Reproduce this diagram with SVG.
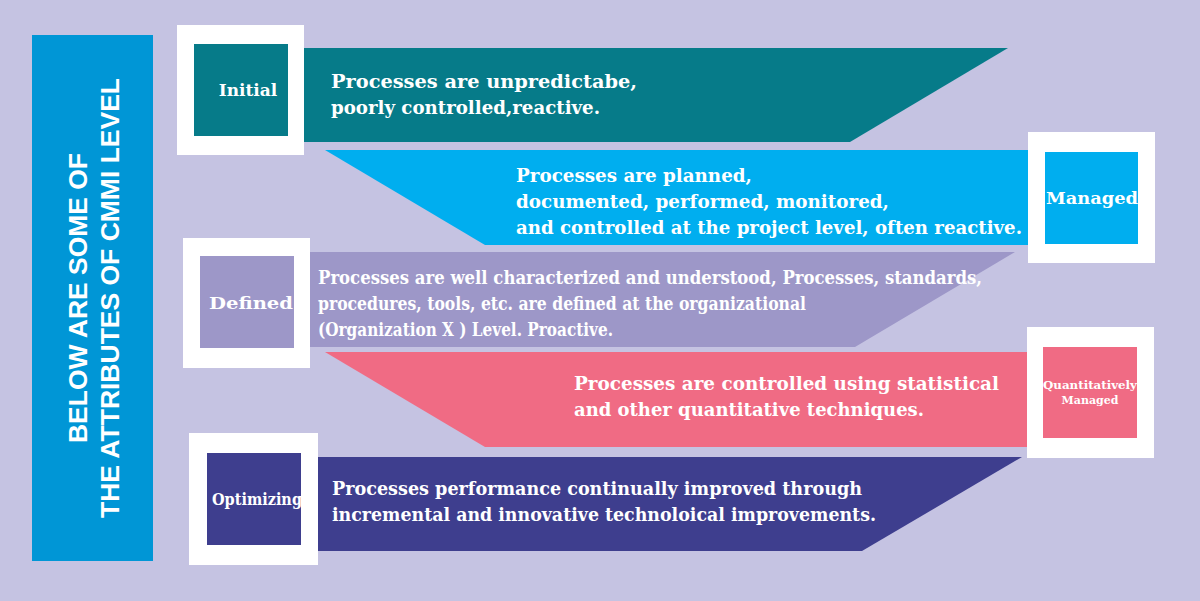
<svg xmlns="http://www.w3.org/2000/svg" width="1200" height="601" viewBox="0 0 1200 601">
<style>
.t{font-family:"DejaVu Serif","Liberation Serif",serif;font-weight:bold;fill:#fff;font-size:19px}
.l{font-family:"DejaVu Serif","Liberation Serif",serif;font-weight:bold;fill:#fff;font-size:17px}
.w{fill:#fff}
</style>
<rect width="1200" height="601" fill="#c5c3e2"/>
<g id="banner">
<rect x="32" y="35" width="121" height="526" fill="#0096d6"/>
<g transform="translate(92,298) rotate(-90)" font-family="Liberation Sans,Arial,sans-serif" font-weight="bold" font-size="25" fill="#fff" text-anchor="middle">
<text x="0" y="-5" textLength="290" lengthAdjust="spacingAndGlyphs">BELOW ARE SOME OF</text>
<text x="0" y="27" textLength="440" lengthAdjust="spacingAndGlyphs">THE ATTRIBUTES OF CMMI LEVEL</text>
</g>
</g>
<g id="initial">
<polygon points="304,48 1008,48 850,142 304,142" fill="#067b89"/>
<rect class="w" x="177" y="25" width="127" height="130"/>
<rect x="194" y="44" width="94" height="92" fill="#067b89"/>
<text class="l" x="248" y="96" text-anchor="middle">Initial</text>
<text class="t" x="331" y="88" textLength="306" lengthAdjust="spacingAndGlyphs">Processes are unpredictabe,</text>
<text class="t" x="331" y="114" textLength="269" lengthAdjust="spacingAndGlyphs">poorly controlled,reactive.</text>
</g>
<g id="managed">
<polygon points="325,150 1030,150 1030,245 485,245" fill="#00aeef"/>
<rect class="w" x="1028" y="132" width="127" height="131"/>
<rect x="1045" y="152" width="93" height="92" fill="#00aeef"/>
<text class="l" x="1092" y="204" text-anchor="middle" textLength="92" lengthAdjust="spacingAndGlyphs">Managed</text>
<text class="t" x="516" y="182" textLength="236" lengthAdjust="spacingAndGlyphs">Processes are planned,</text>
<text class="t" x="516" y="208" textLength="373" lengthAdjust="spacingAndGlyphs">documented, performed, monitored,</text>
<text class="t" x="516" y="234" textLength="506" lengthAdjust="spacingAndGlyphs">and controlled at the project level, often reactive.</text>
</g>
<g id="defined">
<polygon points="310,252 1015,252 855,347 310,347" fill="#9d97c8"/>
<rect class="w" x="183" y="238" width="127" height="130"/>
<rect x="200" y="256" width="94" height="92" fill="#9d97c8"/>
<text class="l" x="251" y="309" text-anchor="middle" textLength="84" lengthAdjust="spacingAndGlyphs">Defined</text>
<text class="t" x="318" y="284" textLength="664" lengthAdjust="spacingAndGlyphs">Processes are well characterized and understood, Processes, standards,</text>
<text class="t" x="318" y="310" textLength="488" lengthAdjust="spacingAndGlyphs">procedures, tools, etc. are defined at the organizational</text>
<text class="t" x="318" y="336" textLength="295" lengthAdjust="spacingAndGlyphs">(Organization X ) Level. Proactive.</text>
</g>
<g id="quantitatively-managed">
<polygon points="325,352 1028,352 1028,447 485,447" fill="#f06b84"/>
<rect class="w" x="1027" y="327" width="127" height="131"/>
<rect x="1043" y="347" width="94" height="91" fill="#f06b84"/>
<text x="1090" y="389" text-anchor="middle" font-family="DejaVu Serif,serif" font-weight="bold" font-size="11" fill="#fff" textLength="94" lengthAdjust="spacingAndGlyphs">Quantitatively</text>
<text x="1090" y="404" text-anchor="middle" font-family="DejaVu Serif,serif" font-weight="bold" font-size="11" fill="#fff">Managed</text>
<text class="t" x="574" y="390" textLength="425" lengthAdjust="spacingAndGlyphs">Processes are controlled using statistical</text>
<text class="t" x="574" y="416" textLength="350" lengthAdjust="spacingAndGlyphs">and other quantitative techniques.</text>
</g>
<g id="optimizing">
<polygon points="318,457 1022,457 862,551 318,551" fill="#3e3e8e"/>
<rect class="w" x="189" y="433" width="129" height="132"/>
<rect x="207" y="453" width="94" height="92" fill="#3e3e8e"/>
<text class="l" x="257" y="505" text-anchor="middle" textLength="90" lengthAdjust="spacingAndGlyphs">Optimizing</text>
<text class="t" x="332" y="495" textLength="530" lengthAdjust="spacingAndGlyphs">Processes performance continually improved through</text>
<text class="t" x="332" y="521" textLength="544" lengthAdjust="spacingAndGlyphs">incremental and innovative technoloical improvements.</text>
</g>
<g id="connectors"/>
</svg>
